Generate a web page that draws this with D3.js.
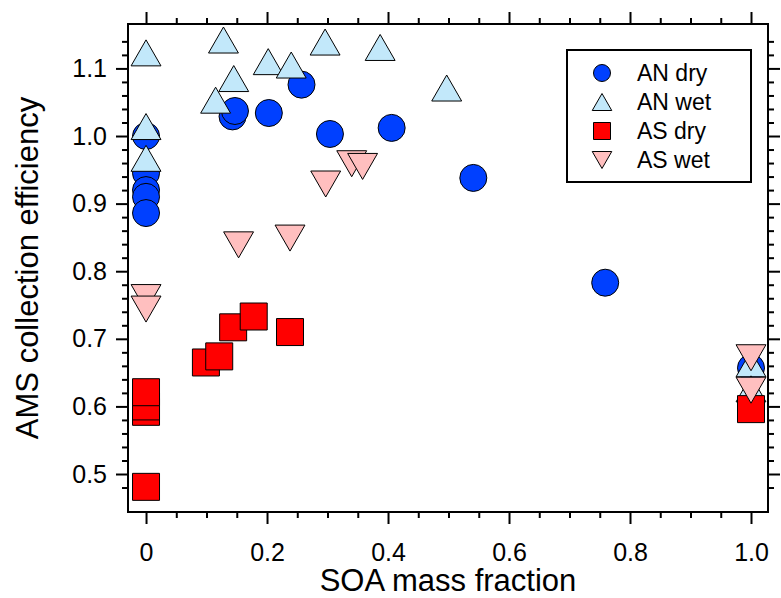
<!doctype html>
<html lang="en">
<head>
<meta charset="UTF-8">
<title>AMS collection efficiency</title>
<style>
  body { margin: 0; background: #fff; }
  text { font-family: Arial, "Liberation Sans", sans-serif; fill: #000; }
</style>
</head>
<body>
<svg width="781" height="598"></svg>
<script src="https://cdn.jsdelivr.net/npm/d3@7"></script>
<script>
// data: SOA mass fraction (x) and collection efficiency (y)
var anDryX = [0, 0, 0, 0, 0, 0.143, 0.147, 0.203, 0.257, 0.304, 0.406, 0.541, 0.759, 1.0];
var anDryY = [1.0, 0.945, 0.92, 0.91, 0.886, 1.029, 1.037, 1.034, 1.076, 1.003, 1.012, 0.938, 0.783, 0.657];
var anWetX = [0, 0, 0, 0.115, 0.128, 0.145, 0.202, 0.240, 0.296, 0.387, 0.497, 1.0, 1.0];
var anWetY = [1.123, 1.014, 0.967, 1.053, 1.142, 1.085, 1.110, 1.105, 1.139, 1.131, 1.071, 0.663, 0.626];
var asDryX = [0, 0, 0, 0, 0.099, 0.121, 0.144, 0.178, 0.238, 1.0];
var asDryY = [0.592, 0.600, 0.621, 0.481, 0.665, 0.674, 0.717, 0.733, 0.710, 0.596];
var asWetX = [0, 0, 0.153, 0.238, 0.297, 0.340, 0.358, 1.0, 1.0];
var asWetY = [0.761, 0.744, 0.839, 0.849, 0.929, 0.959, 0.955, 0.672, 0.624];

var seriesNames = ['AN dry', 'AN wet', 'AS dry', 'AS wet'];
var xTicks = [0, 0.2, 0.4, 0.6, 0.8, 1.0];
var xTickLabels = ['0', '0.2', '0.4', '0.6', '0.8', '1.0'];
var yTicks = [0.5, 0.6, 0.7, 0.8, 0.9, 1.0, 1.1];

var svg = d3.select('svg');
var plotL = 128, plotR = 768, plotT = 24, plotB = 512;

var x = d3.scaleLinear().domain([-0.0298, 1.0281]).range([plotL, plotR]);
var y = d3.scaleLinear().domain([0.4438, 1.1657]).range([plotB, plotT]);

var xMinor = d3.range(0, 21).map(function(i) { return i * 0.05; })
    .filter(function(v) { return xTicks.every(function(t) { return Math.abs(t - v) > 1e-6; }); });
var yMinor = d3.range(24, 58).map(function(i) { return i * 0.02; })
    .filter(function(v) { return yTicks.every(function(t) { return Math.abs(t - v) > 1e-6; }); });

function styleAxis(g) {
    g.select('.domain').remove();
    g.selectAll('line').attr('stroke', '#000').attr('stroke-width', 2);
    g.selectAll('text').style('font-size', '25px').style('font-family', 'Arial, "Liberation Sans", sans-serif');
}

// major ticks
svg.append('g').attr('transform', 'translate(0,' + plotB + ')')
    .call(d3.axisBottom(x).tickValues(xTicks).tickSize(12).tickPadding(19)
        .tickFormat(function(d, i) { return xTickLabels[i]; }))
    .call(styleAxis);
svg.append('g').attr('transform', 'translate(0,' + plotT + ')')
    .call(d3.axisTop(x).tickValues(xTicks).tickSize(12).tickFormat(''))
    .call(styleAxis);
svg.append('g').attr('transform', 'translate(' + plotL + ',0)')
    .call(d3.axisLeft(y).tickValues(yTicks).tickSize(12).tickPadding(9).tickFormat(d3.format('.1f')))
    .call(styleAxis);
svg.append('g').attr('transform', 'translate(' + plotR + ',0)')
    .call(d3.axisRight(y).tickValues(yTicks).tickSize(12).tickFormat(''))
    .call(styleAxis);

// minor ticks
svg.append('g').attr('transform', 'translate(0,' + plotB + ')')
    .call(d3.axisBottom(x).tickValues(xMinor).tickSize(6).tickFormat('')).call(styleAxis);
svg.append('g').attr('transform', 'translate(0,' + plotT + ')')
    .call(d3.axisTop(x).tickValues(xMinor).tickSize(6).tickFormat('')).call(styleAxis);
svg.append('g').attr('transform', 'translate(' + plotL + ',0)')
    .call(d3.axisLeft(y).tickValues(yMinor).tickSize(6).tickFormat('')).call(styleAxis);
svg.append('g').attr('transform', 'translate(' + plotR + ',0)')
    .call(d3.axisRight(y).tickValues(yMinor).tickSize(6).tickFormat('')).call(styleAxis);

// frame
svg.append('rect')
    .attr('x', plotL).attr('y', plotT)
    .attr('width', plotR - plotL).attr('height', plotB - plotT)
    .attr('fill', 'none').attr('stroke', '#000').attr('stroke-width', 2);

// axis titles
svg.append('text')
    .attr('x', (plotL + plotR) / 2).attr('y', 591)
    .attr('text-anchor', 'middle')
    .style('font-size', '31px')
    .text('SOA mass fraction');
svg.append('text')
    .attr('transform', 'translate(38,' + (plotT + plotB) / 2 + ') rotate(-90)')
    .attr('text-anchor', 'middle')
    .style('font-size', '31px')
    .text('AMS collection efficiency');

// marker shapes
function circlePath(s) { var r = s / 2; return 'M' + (-r) + ',0A' + r + ',' + r + ' 0 1,0 ' + r + ',0A' + r + ',' + r + ' 0 1,0 ' + (-r) + ',0Z'; }
function upPath(s) { var w = s * 1.15 / 2, h = s / 2; return 'M0,' + (-h) + 'L' + w + ',' + h + 'L' + (-w) + ',' + h + 'Z'; }
function squarePath(s) { var h = s / 2; return 'M' + (-h) + ',' + (-h) + 'H' + h + 'V' + h + 'H' + (-h) + 'Z'; }
function downPath(s) { var w = s * 1.15 / 2, h = s / 2; return 'M' + (-w) + ',' + (-h) + 'L' + w + ',' + (-h) + 'L0,' + h + 'Z'; }

var series = [
    { xs: anDryX, ys: anDryY, shape: circlePath, size: 27, fill: '#0040ff' },
    { xs: anWetX, ys: anWetY, shape: upPath, size: 26, fill: '#c2e8fa' },
    { xs: asDryX, ys: asDryY, shape: squarePath, size: 27, fill: '#ff0000' },
    { xs: asWetX, ys: asWetY, shape: downPath, size: 26, fill: '#ffbfbf' }
];

var plot = svg.append('g').classed('points', true);
series.forEach(function(s) {
    plot.append('g').selectAll('path')
        .data(s.xs)
        .enter()
        .append('path')
        .attr('transform', function(d, i) { return 'translate(' + x(d) + ',' + y(s.ys[i]) + ')'; })
        .attr('d', s.shape(s.size))
        .attr('fill', s.fill)
        .attr('stroke', '#000')
        .attr('stroke-width', 1);
});

// legend
var legend = svg.append('g').classed('legend', true);
legend.append('rect')
    .attr('x', 567).attr('y', 50).attr('width', 184).attr('height', 132)
    .attr('fill', '#fff').attr('stroke', '#000').attr('stroke-width', 2);
var legendRows = [73, 102, 131, 160];
series.forEach(function(s, i) {
    legend.append('path')
        .attr('transform', 'translate(602,' + legendRows[i] + ')')
        .attr('d', s.shape(17))
        .attr('fill', s.fill)
        .attr('stroke', '#000')
        .attr('stroke-width', 1);
    legend.append('text')
        .attr('x', 637).attr('y', legendRows[i] + 8)
        .style('font-size', '23px')
        .text(seriesNames[i]);
});
</script>
</body>
</html>
